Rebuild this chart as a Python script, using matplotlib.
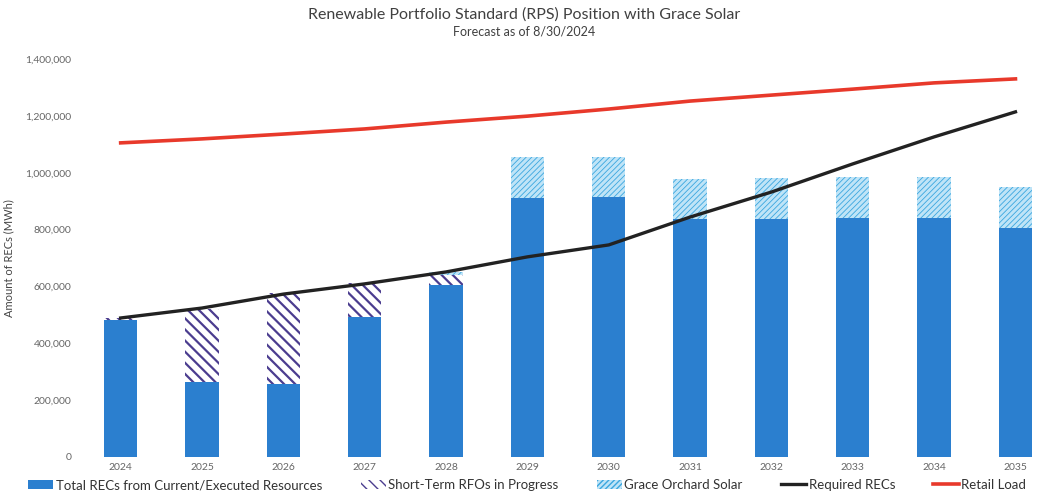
import matplotlib.pyplot as plt
import numpy as np
from matplotlib.ticker import FuncFormatter

plt.rcParams['font.family'] = ['Lato', 'DejaVu Sans']

# Data (MWh)
years = ['2024', '2025', '2026', '2027', '2028', '2029', '2030', '2031', '2032', '2033', '2034', '2035']
current_recs = [482000, 264000, 257000, 492000, 605000, 911000, 915000, 837000, 837000, 840000, 840000, 805000]
short_term_rfos = [7000, 256000, 320000, 120000, 35000, 0, 0, 0, 0, 0, 0, 0]
grace_solar = [0, 0, 0, 0, 11000, 144000, 140000, 141000, 144000, 145000, 145000, 145000]
required_recs = [489000, 524000, 573000, 609000, 651000, 704000, 746000, 844000, 932000, 1031000, 1126000, 1214000]
retail_load = [1105000, 1119000, 1136000, 1154000, 1178000, 1199000, 1224000, 1252000, 1273000, 1294000, 1316000, 1330000]

x = np.arange(len(years))
cur = np.array(current_recs)
st = np.array(short_term_rfos)
gs = np.array(grace_solar)

fig = plt.figure(figsize=(10.48, 4.96), dpi=100)
ax = fig.add_axes([80 / 1048, 39 / 496, 968 / 1048, 398 / 496])

w = 0.41
ax.bar(x, cur, width=w, color='#2b7fcf', label='Total RECs from Current/Executed Resources')
b2 = ax.bar(x, st, width=w, bottom=cur, facecolor='white', edgecolor='#4b3d8f', hatch='\\\\\\',
            linewidth=0, label='Short-Term RFOs in Progress')
b3 = ax.bar(x, gs, width=w, bottom=cur + st, facecolor='#bfe4f7', edgecolor='#3aa6df', hatch='//////',
            linewidth=0, label='Grace Orchard Solar')
for bars, lw in ((b2, 1.6), (b3, 0.6)):
    for p in bars:
        if hasattr(p, 'set_hatch_linewidth'):
            p.set_hatch_linewidth(lw)

ax.plot(x, required_recs, color='#222222', linewidth=2.4, label='Required RECs')
ax.plot(x, retail_load, color='#e8392b', linewidth=2.6, label='Retail Load')

ax.set_xlim(-0.5, 11.4)
ax.set_ylim(0, 1400000)
ax.set_yticks(np.arange(0, 1400001, 200000))
ax.yaxis.set_major_formatter(FuncFormatter(lambda v, p: f'{int(v):,}'))
ax.set_xticks(x)
ax.set_xticklabels(years)
ax.tick_params(axis='both', length=0, labelsize=7.5, colors='#666666')
ax.tick_params(axis='x', pad=4)
ax.tick_params(axis='y', pad=6)
for s in ax.spines.values():
    s.set_visible(False)

ax.set_ylabel('Amount of RECs (MWh)', fontsize=8, color='#444444', labelpad=8)

fig.text(0.5, 0.970, 'Renewable Portfolio Standard (RPS) Position with Grace Solar',
         ha='center', va='center', fontsize=11.5, color='#404040')
fig.text(0.5, 0.936, 'Forecast as of 8/30/2024', ha='center', va='center', fontsize=9, color='#404040')

handles, labels = ax.get_legend_handles_labels()
order = [2, 3, 4, 0, 1]
fig.legend([handles[i] for i in order], [labels[i] for i in order], loc='center',
           bbox_to_anchor=(0.503, 0.022), ncol=5, frameon=False, fontsize=9.5,
           handlelength=1.9, handletextpad=0.2, columnspacing=2.9, labelcolor='#333333')

fig.savefig('out.png', dpi=100)
